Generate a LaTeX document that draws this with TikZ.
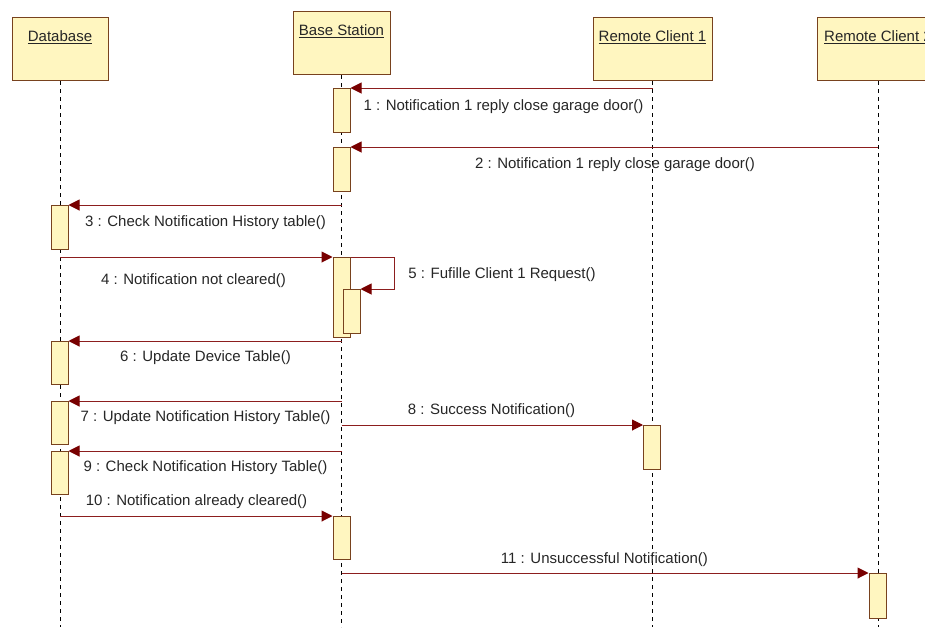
\documentclass[tikz,border=0pt]{standalone}
\usepackage{fontspec}
\setmainfont{Liberation Sans}
\usetikzlibrary{arrows.meta}
\definecolor{ylw}{RGB}{255,246,192}
\definecolor{brd}{RGB}{120,66,30}
\definecolor{msgc}{RGB}{140,30,30}
\definecolor{tipc}{RGB}{120,0,0}
\begin{document}
\begin{tikzpicture}[x=1pt, y=-1pt,
	every node/.style={font=\fontsize{15}{18}\selectfont, text=black!85},
	head/.style={draw=brd, fill=ylw, line width=1pt, inner sep=0pt, text height=24pt, text depth=39pt, anchor=north},
	bar/.style={draw=brd, fill=ylw, line width=1pt, inner sep=0pt, minimum width=17pt, minimum height=#1, anchor=north},
	life/.style={dash pattern=on 4pt off 4pt, line width=1pt},
	msg/.style={draw=msgc, line width=1pt, -{Triangle[length=11pt, width=11pt, color=tipc]}}]
		\useasboundingbox (0,0) rectangle (925,627);
		\clip (0,0) rectangle (925,627);

		\node[head, minimum width=96pt] (db) at (60,17) {\underline{Database}};
		\node[head, minimum width=97pt] (bs) at (341.5,11) {\underline{Base Station}};
		\node[head, minimum width=119pt] (rc1) at (652.5,17) {\underline{Remote Client 1}};
		\node[head, minimum width=122pt] (rc2) at (878,17) {\underline{Remote Client 2}};
		\foreach \h in {db,bs,rc1,rc2}
			\draw[life] (\h.south) -- (\h.south |- 0,627);

		\node[bar=44pt] (b1) at (341.5,88) {};
		\node[bar=44pt] (b2) at (341.5,147) {};
		\node[bar=44pt] (d1) at (59.5,205) {};
		\node[bar=80pt] (b3) at (341.5,257) {};
		\node[bar=44pt] (b3s) at (351.5,289) {};
		\node[bar=43pt] (d2) at (59.5,341) {};
		\node[bar=43pt] (d3) at (59.5,401) {};
		\node[bar=44pt] (c1) at (652,425) {};
		\node[bar=43pt] (d4) at (59.5,451) {};
		\node[bar=43pt] (b4) at (341.5,516) {};
		\node[bar=45pt] (c2) at (877.5,573) {};

		\draw[msg] (rc1 |- b1.north) -- (b1.north east);
		\draw[msg] (rc2 |- b2.north) -- (b2.north east);
		\draw[msg] (bs |- d1.north) -- (d1.north east);
		\draw[msg] (db |- b3.north) -- (b3.north west);
		\draw[msg] (b3.north east) -- ++(44,0) |- (b3s.north east);
		\draw[msg] (bs |- d2.north) -- (d2.north east);
		\draw[msg] (bs |- d3.north) -- (d3.north east);
		\draw[msg] (bs |- c1.north) -- (c1.north west);
		\draw[msg] (bs |- d4.north) -- (d4.north east);
		\draw[msg] (db |- b4.north) -- (b4.north west);
		\draw[msg] (bs |- c2.north) -- (c2.north west);

		\node (t1) at (503.5,107) {1 : Notification 1 reply close garage door()};
		\node (t2) at (615,165) {2 : Notification 1 reply close garage door()};
		\node (t3) at (205.5,223) {3 : Check Notification History table()};
		\node (t4) at (193.5,281) {4 : Notification not cleared()};
		\node (t5) at (502,275) {5 : Fufille Client 1 Request()};
		\node (t6) at (205.5,358) {6 : Update Device Table()};
		\node (t7) at (205.5,418) {7 : Update Notification History Table()};
		\node (t8) at (491.5,411) {8 : Success Notification()};
		\node (t9) at (205.5,468) {9 : Check Notification History Table()};
		\node (t10) at (196.5,502) {10 : Notification already cleared()};
		\node (t11) at (604.5,560) {11 : Unsuccessful Notification()};
	\end{tikzpicture}
\end{document}
